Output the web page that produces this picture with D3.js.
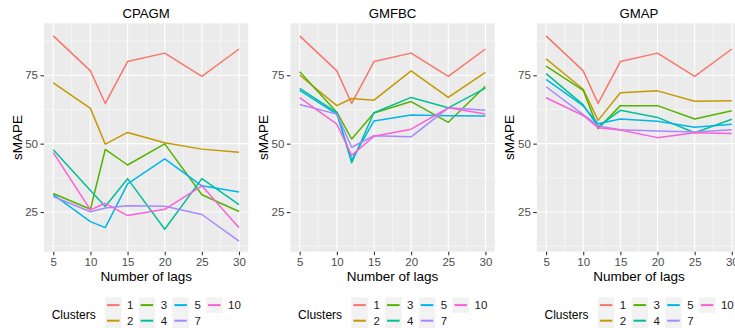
<!DOCTYPE html>
<html>
<head>
<meta charset="utf-8">
<script src="https://cdn.jsdelivr.net/npm/d3@7"></script>
<style>
  html, body { margin: 0; padding: 0; background: #fff; }
  svg { display: block; font-family: "Liberation Sans", Arial, sans-serif; }
</style>
</head>
<body>
<svg id="chart" width="735" height="328"></svg>
<script>
// ---- data ----
const lags = [5, 10, 12, 15, 20, 25, 30];
const clusters = ["1", "2", "3", "4", "5", "7", "10"];
const clusterColors = ["#F8766D", "#C49A00", "#53B400", "#00C094", "#00B6EB", "#A58AFF", "#FB61D7"];
const methods = ["CPAGM", "GMFBC", "GMAP"];
const xTicks = [5, 10, 15, 20, 25, 30];
const yTicks = [25, 50, 75];

// rows follow clusters order: 1, 2, 3, 4, 5, 7, 10
const cpagm = [
  [89.4, 76.6, 64.7, 80.0, 83.1, 74.6, 84.6],
  [72.2, 62.9, 49.8, 54.1, 50.3, 48.0, 46.9],
  [31.8, 26.0, 47.9, 42.2, 49.9, 31.3, 25.2],
  [47.8, 32.9, 27.0, 37.2, 18.7, 37.2, 27.7],
  [31.4, 21.5, 19.3, 35.3, 44.4, 34.6, 32.3],
  [30.7, 25.1, 26.5, 27.3, 27.1, 24.1, 14.4],
  [46.7, 25.8, 28.2, 23.7, 26.0, 34.6, 19.3]
];
const gmfbc = [
  [89.4, 76.6, 64.7, 80.0, 83.1, 74.6, 84.6],
  [75.0, 63.9, 66.5, 65.9, 76.6, 66.9, 76.1],
  [76.3, 61.5, 51.7, 61.2, 65.4, 57.8, 71.0],
  [70.2, 61.3, 43.0, 61.3, 66.9, 63.1, 70.3],
  [69.5, 60.8, 44.0, 58.3, 60.5, 60.2, 60.1],
  [64.3, 60.8, 48.7, 52.9, 52.5, 63.1, 62.2],
  [66.8, 57.1, 45.7, 52.7, 55.3, 63.1, 60.8]
];
const gmap = [
  [89.4, 76.6, 64.7, 80.0, 83.1, 74.6, 84.6],
  [81.0, 69.9, 58.5, 68.6, 69.3, 65.5, 65.7],
  [78.3, 69.5, 55.5, 63.9, 63.9, 59.0, 62.0],
  [75.6, 64.2, 56.2, 62.2, 59.6, 54.0, 58.9],
  [73.5, 63.8, 57.3, 59.0, 58.2, 56.0, 57.1],
  [70.8, 60.6, 56.5, 55.1, 54.6, 54.3, 55.1],
  [66.8, 60.3, 55.8, 55.0, 52.2, 54.0, 53.7]
];
const methodData = [cpagm, gmfbc, gmap];

// ---- layout ----
const svg = d3.select("#chart");
svg.append("rect").attr("width", 735).attr("height", 328).attr("fill", "#fff");

const panelStep = 246.4;
const plotLeft = 44, plotRight = 248.3, plotTop = 23.3, plotBottom = 251.7;

const x = d3.scaleLinear().domain([3.75, 31.25]).range([plotLeft, plotRight]);
const y = d3.scaleLinear().domain([10.5, 94.0]).range([plotBottom, plotTop]);
const color = d3.scaleOrdinal().domain(clusters).range(clusterColors);

const xMinor = [7.5, 12.5, 17.5, 22.5, 27.5];
const yMinor = [12.5, 37.5, 62.5, 87.5];

methods.forEach((m, mi) => {
  const g = svg.append("g").attr("transform", `translate(${mi * panelStep},0)`);

  // panel background
  g.append("rect")
    .attr("x", plotLeft).attr("y", plotTop)
    .attr("width", plotRight - plotLeft).attr("height", plotBottom - plotTop)
    .attr("fill", "#EBEBEB");

  // minor grid
  g.selectAll(".xminor").data(xMinor).join("line")
    .attr("x1", d => x(d)).attr("x2", d => x(d))
    .attr("y1", plotTop).attr("y2", plotBottom)
    .attr("stroke", "#fff").attr("stroke-width", 0.55);
  g.selectAll(".yminor").data(yMinor).join("line")
    .attr("class", "yminor")
    .attr("y1", d => y(d)).attr("y2", d => y(d))
    .attr("x1", plotLeft).attr("x2", plotRight)
    .attr("stroke", "#fff").attr("stroke-width", 0.55);
  // major grid
  g.selectAll(".xmajor").data(xTicks).join("line")
    .attr("class", "xmajor")
    .attr("x1", d => x(d)).attr("x2", d => x(d))
    .attr("y1", plotTop).attr("y2", plotBottom)
    .attr("stroke", "#fff").attr("stroke-width", 1.1);
  g.selectAll(".ymajor").data(yTicks).join("line")
    .attr("class", "ymajor")
    .attr("y1", d => y(d)).attr("y2", d => y(d))
    .attr("x1", plotLeft).attr("x2", plotRight)
    .attr("stroke", "#fff").attr("stroke-width", 1.1);

  // lines
  const line = d3.line().x((d, i) => x(lags[i])).y(d => y(d));
  const series = methodData[mi];
  g.selectAll(".series").data(series).join("path")
    .attr("class", "series")
    .attr("d", d => line(d))
    .attr("fill", "none")
    .attr("stroke", (d, i) => color(clusters[i]))
    .attr("stroke-width", 1.5)
    .attr("stroke-linejoin", "round");

  // axes
  const xAxis = d3.axisBottom(x).tickValues(xTicks).tickSize(3.5).tickPadding(2.5);
  const gx = g.append("g").attr("transform", `translate(0,${plotBottom})`).call(xAxis);
  gx.select(".domain").remove();
  gx.selectAll(".tick line").attr("stroke", "#333333").attr("stroke-width", 1.1);
  gx.selectAll(".tick text").attr("fill", "#4D4D4D").attr("font-size", 11.5)
    .attr("font-family", "Liberation Sans, Arial, sans-serif");

  const yAxis = d3.axisLeft(y).tickValues(yTicks).tickSize(3.5).tickPadding(2.5);
  const gy = g.append("g").attr("transform", `translate(${plotLeft},0)`).call(yAxis);
  gy.select(".domain").remove();
  gy.selectAll(".tick line").attr("stroke", "#333333").attr("stroke-width", 1.1);
  gy.selectAll(".tick text").attr("fill", "#4D4D4D").attr("font-size", 11.5)
    .attr("font-family", "Liberation Sans, Arial, sans-serif");

  // titles
  g.append("text")
    .attr("x", (plotLeft + plotRight) / 2).attr("y", 17.5)
    .attr("text-anchor", "middle").attr("font-size", 13.2).attr("fill", "#000")
    .text(m);
  g.append("text")
    .attr("x", (plotLeft + plotRight) / 2).attr("y", 281)
    .attr("text-anchor", "middle").attr("font-size", 13.5).attr("fill", "#000")
    .text("Number of lags");
  g.append("text")
    .attr("transform", `translate(21.5,${(plotTop + plotBottom) / 2}) rotate(-90)`)
    .attr("text-anchor", "middle").attr("font-size", 13.5).attr("fill", "#000")
    .text("sMAPE");

  // legend
  const lg = g.append("g");
  lg.append("text").attr("x", 51.7).attr("y", 318.5)
    .attr("font-size", 12).attr("fill", "#000").text("Clusters");
  const keyW = 16.5, keyH = 15.6, colStep = 33.7, keyX0 = 105, rowY0 = 297.3;
  clusters.forEach((c, i) => {
    const col = Math.floor(i / 2), row = i % 2;
    const kx = keyX0 + col * colStep, ky = rowY0 + row * keyH;
    lg.append("rect").attr("x", kx).attr("y", ky).attr("width", keyW).attr("height", keyH)
      .attr("fill", "#F2F2F2");
    lg.append("line").attr("x1", kx + 2).attr("x2", kx + keyW - 2)
      .attr("y1", ky + keyH / 2).attr("y2", ky + keyH / 2)
      .attr("stroke", color(c)).attr("stroke-width", 2);
    lg.append("text").attr("x", kx + keyW + 5.5).attr("y", ky + keyH / 2 + 4)
      .attr("font-size", 11.5).attr("fill", "#1A1A1A").text(c);
  });
});
</script>
</body>
</html>
